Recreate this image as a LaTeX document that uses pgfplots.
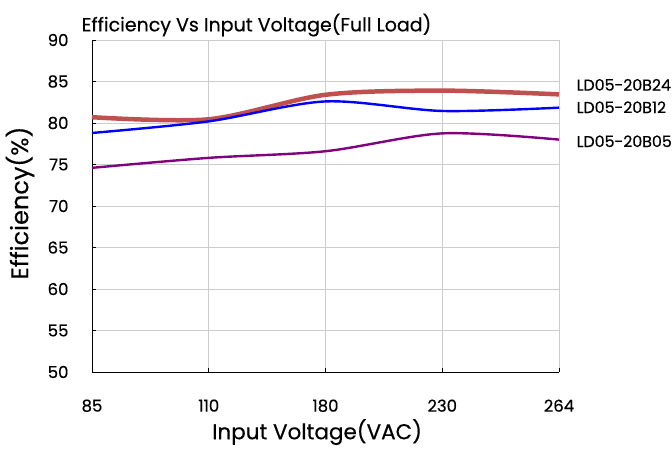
\documentclass[border=0pt]{standalone}
\usepackage{pgfplots}
\pgfplotsset{compat=1.18}
\usepackage{fontspec}
\setmainfont{Poppins}[FakeBold=0.4]
\definecolor{cred}{HTML}{C0504D}
\definecolor{cblue}{HTML}{0000FF}
\definecolor{cpurple}{HTML}{800080}
\begin{document}
\begin{tikzpicture}
\begin{axis}[
  scale only axis, width=467pt, height=332pt,
  xmin=0, xmax=4, ymin=50, ymax=90,
  xtick={0,1,2,3,4}, xticklabels={85,110,180,230,264},
  ytick={50,55,...,90},
  /pgf/number format/assume math mode=true,
  axis x line*=bottom, axis y line*=left,
  axis line style={black, line width=0.8pt},
  tick align=inside, major tick length=4pt,
  tick style={black, line width=0.8pt},
  grid=major, grid style={gray!40, line width=0.8pt},
  ticklabel style={font=\fontsize{16.5}{19}\selectfont},
  xticklabel style={yshift=-24pt},
  yticklabel style={xshift=-20pt},
  xlabel={Input Voltage(VAC)}, ylabel={Efficiency(\%)},
  xlabel style={font=\fontsize{21.5}{24}\selectfont, at={(axis description cs:0.482,-0.181)}, anchor=center},
  ylabel style={font=\fontsize{24}{26}\selectfont, at={(axis description cs:-0.154,0.509)}, anchor=center},
  title={Efficiency Vs Input Voltage(Full Load)},
  title style={font=\fontsize{19}{22}\selectfont, yshift=-6pt, xshift=-69pt},
  clip=false,
]
\coordinate (bl) at (rel axis cs:0,0);
\addplot[cred, line width=4.5pt, smooth, tension=0.5] coordinates {(0,80.7) (1,80.45) (2,83.4) (3,83.9) (4,83.45)};
\addplot[cblue, line width=2.4pt, smooth, tension=0.5] coordinates {(0,78.8) (1,80.2) (2,82.6) (3,81.45) (4,81.85)};
\addplot[cpurple, line width=2.4pt, smooth, tension=0.5] coordinates {(0,74.6) (1,75.8) (2,76.6) (3,78.75) (4,78.0)};
\node[anchor=west, font=\fontsize{15.8}{18}\selectfont, inner sep=0pt] at (axis cs:4.15,84.6) {LD05-20B24};
\node[anchor=west, font=\fontsize{15.8}{18}\selectfont, inner sep=0pt] at (axis cs:4.15,81.9) {LD05-20B12};
\node[anchor=west, font=\fontsize{15.8}{18}\selectfont, inner sep=0pt] at (axis cs:4.15,77.8) {LD05-20B05};
\end{axis}
\pgfresetboundingbox
\path[use as bounding box] ([xshift=-92pt,yshift=-81pt]bl) rectangle ([xshift=580pt,yshift=372pt]bl);
\end{tikzpicture}
\end{document}
